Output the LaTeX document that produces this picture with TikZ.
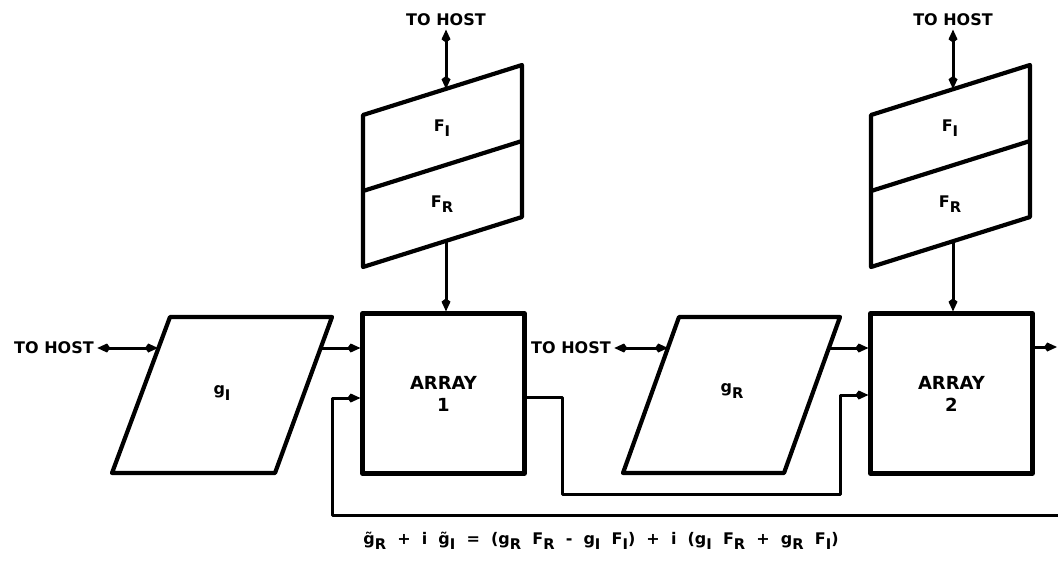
\documentclass[tikz,border=0pt]{standalone}
\usepackage{fontspec}
\usepackage{graphicx}
\setmainfont{DejaVu Sans}
\newfontfamily\eqfont{DejaVu Sans}[WordSpace=2]
\usetikzlibrary{arrows.meta}
\newcommand{\subx}[1]{\raisebox{-0.6ex}{\scalebox{0.92}{#1}}}

\begin{document}
\begin{tikzpicture}[x=1pt, y=-1pt, line join=round,
    every node/.style={font=\bfseries\fontsize{16}{18}\selectfont},
    unit/.style={draw, line width=4.2pt, minimum width=162pt, minimum height=160pt,
      inner sep=0pt, align=center, font=\bfseries\fontsize{18}{22}\selectfont},
    frame/.style={line width=4.2pt},
    link/.style={line width=3pt, -{Kite[length=13pt,width=9pt]}},
    dlink/.style={line width=3pt, {Kite[length=13pt,width=9pt]}-{Kite[length=13pt,width=9pt]}}]
  \useasboundingbox (0,0) rectangle (1058,560);

  %% ---------- LEFT: imaginary part g_I into array 1 ----------
  \node (hostL) at (54,348) {TO HOST};
  \node (hostT1) at (446,20) {TO HOST};
  \draw[frame] (363,115) -- (522,65) -- (522,217) -- (363,267) -- cycle;
  \draw[frame] (363,191) -- (522,141);
  \node (fI1) at (442,128) {F\subx{I}};
  \node (fR1) at (442,204) {F\subx{R}};
  \coordinate (ftop1) at (446,89);
  \coordinate (fbot1) at (446,241);
  \draw[frame] (112,473) -- (170,317) -- (332,317) -- (275,473) -- cycle;
  \node (gI) at (222,393) {g\subx{I}};
  \coordinate (gIin) at (158,348);
  \coordinate (gIout) at (321,348);
  \node[unit] (array1) at (443.5,393.5) {ARRAY\\1};

  \draw[dlink] (hostT1) -- (ftop1);
  \draw[link] (fbot1) -- (fbot1 |- array1.north);
  \draw[dlink] (hostL) -- (gIin);
  \draw[link] (gIout) -- (gIout -| array1.west);

  %% ---------- RIGHT: real part g_R into array 2 ----------
  \node (hostM) at (571,348) {TO HOST};
  \node (hostT2) at (953,20) {TO HOST};
  \draw[frame] (871,115) -- (1030,65) -- (1030,217) -- (871,267) -- cycle;
  \draw[frame] (871,191) -- (1030,141);
  \node (fI2) at (950,128) {F\subx{I}};
  \node (fR2) at (950,204) {F\subx{R}};
  \coordinate (ftop2) at (953,89);
  \coordinate (fbot2) at (953,241);
  \draw[frame] (623,473) -- (679,317) -- (840,317) -- (784,473) -- cycle;
  \node (gR) at (732,391) {g\subx{R}};
  \coordinate (gRin) at (668,348);
  \coordinate (gRout) at (829,348);
  \node[unit] (array2) at (951.5,393.5) {ARRAY\\2};

  \draw[dlink] (hostT2) -- (ftop2);
  \draw[link] (fbot2) -- (fbot2 |- array2.north);
  \draw[dlink] (hostM) -- (gRin);
  \draw[link] (gRout) -- (gRout -| array2.west);
  \coordinate (out2) at (1057,347);
  \draw[link] (out2 -| array2.east) -- (out2);

  % array 1 -> array 2 and the feedback loop
  \coordinate (c1) at (562,494);
  \coordinate (c2) at (840,494);
  \draw[link] ([yshift=-3.5pt]array1.east) -| (c1) -- (c2) |- ([yshift=-1.5pt]array2.west);
  \coordinate (fb) at (1058,515);
  \coordinate (c3) at (332,515);
  \draw[link] (fb) -- (c3) |- ([yshift=-4.5pt]array1.west);

  \node[font=\eqfont\bfseries\fontsize{16}{18}\selectfont] (eq) at (601,541)
    {\~{g}\subx{R} + i \~{g}\subx{I} = (g\subx{R} F\subx{R} - g\subx{I} F\subx{I}) + i (g\subx{I} F\subx{R} + g\subx{R} F\subx{I})};
\end{tikzpicture}
\end{document}
